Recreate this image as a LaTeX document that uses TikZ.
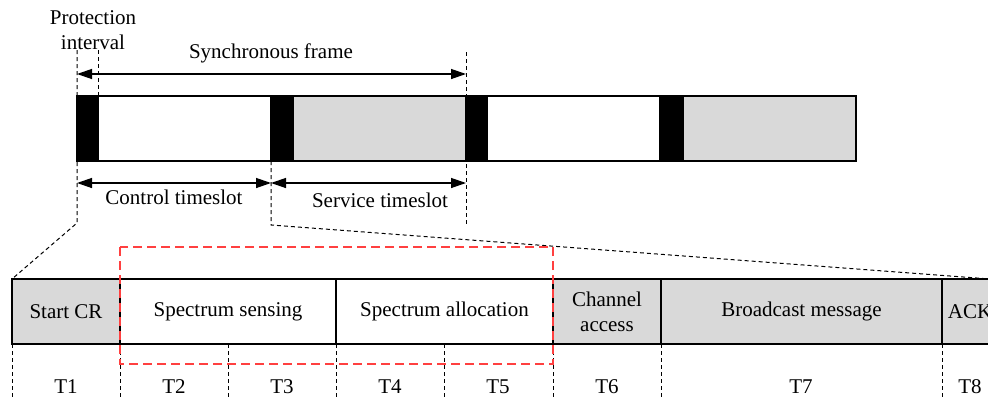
\documentclass[tikz,border=0pt]{standalone}
\usepackage{fontspec}
\setmainfont{Liberation Serif}
\usetikzlibrary{arrows.meta}
\definecolor{slotgray}{HTML}{D9D9D9}
\definecolor{zonered}{HTML}{FF4040}
\tikzset{
  txt/.style={font=\fontsize{21}{25}\selectfont, inner sep=0pt, align=center},
  slot/.style={draw=black, line width=1.1pt, minimum height=65pt, inner sep=0pt, outer sep=0pt, anchor=north west},
  guard/.style={slot, fill=black},
  cell/.style={slot, txt},
  guide/.style={line width=1pt, dash pattern=on 4pt off 3pt},
  dim/.style={line width=1.3pt, {Triangle[length=15pt,width=10pt]}-{Triangle[length=15pt,width=10pt]}},
  zone/.style={draw=zonered, line width=1.2pt, dash pattern=on 9pt off 5pt}
}
\begin{document}
\begin{tikzpicture}[x=1pt, y=-1pt]
\clip (0,0) rectangle (988,399);

% guide coordinates of the frame
\coordinate (pL)    at (77,50);
\coordinate (pR)    at (98,50);
\coordinate (pRb)   at (98,96);
\coordinate (fR)    at (466,52);
\coordinate (kneeA) at (77,223);
\coordinate (kneeB) at (271,225);
\coordinate (kneeC) at (466,225);
\coordinate (topB)  at (271,161);
\coordinate (zoomL) at (12,279);
\coordinate (zoomR) at (990,279);

% dashed guides (behind the frame)
\draw[guide] (pL) -- (kneeA) -- (zoomL);
\draw[guide] (pR) -- (pRb);
\draw[guide] (topB) -- (kneeB) -- (zoomR);
\draw[guide] (fR) -- (kneeC);

% frame bar: guard intervals and timeslots
\node[guard, minimum width=21pt]                 (g1) at (77,96)  {};
\node[slot,  minimum width=173pt]                (c1) at (98,96)  {};
\node[guard, minimum width=22pt]                 (g2) at (271,96) {};
\node[slot,  fill=slotgray, minimum width=173pt] (s1) at (293,96) {};
\node[guard, minimum width=21pt]                 (g3) at (466,96) {};
\node[slot,  minimum width=173pt]                (c2) at (487,96) {};
\node[guard, minimum width=23pt]                 (g4) at (660,96) {};
\node[slot,  fill=slotgray, minimum width=173pt] (s2) at (683,96) {};

% labels of the frame
\node[txt] (prot) at (93,30) {Protection\\interval};
\node[txt] (sync) at (271,53) {Synchronous frame};
\node[txt] (ctrl) at (174,197) {Control timeslot};
\node[txt] (serv) at (380,200) {Service timeslot};

% dimension arrows
\coordinate (sfL) at (77,74);
\coordinate (sfR) at (466,74);
\coordinate (ctL) at (77,183);
\coordinate (ctR) at (271,183);
\coordinate (stR) at (466,183);
\draw[dim] (sfL) -- (sfR);
\draw[dim] (ctL) -- (ctR);
\draw[dim] (ctR) -- (stR);

% expanded control timeslot
\node[cell, fill=slotgray, minimum width=108pt] (startcr) at (12,279)  {Start CR};
\node[cell, minimum width=216pt]                (sense)   at (120,279) {Spectrum sensing};
\node[cell, minimum width=217pt]                (alloc)   at (336,279) {Spectrum allocation};
\node[cell, fill=slotgray, minimum width=108pt] (chan)    at (553,279) {Channel\\access};
\node[cell, fill=slotgray, minimum width=281pt] (bcast)   at (661,279) {Broadcast message};
\node[cell, fill=slotgray, minimum width=56pt]  (ack)     at (942,279) {ACK};

% time marks below the cells
\foreach \x in {12,120,228,336,444,553,661,942}
  \draw[guide] (\x,344) -- (\x,399);

\node[txt] (t1) at (66,387)  {T1};
\node[txt] (t2) at (174,387) {T2};
\node[txt] (t3) at (282,387) {T3};
\node[txt] (t4) at (390,387) {T4};
\node[txt] (t5) at (498,387) {T5};
\node[txt] (t6) at (607,387) {T6};
\node[txt] (t7) at (801,387) {T7};
\node[txt] (t8) at (970,387) {T8};

% highlighted sensing and allocation phase
\draw[zone] (120,247) rectangle (553,364);
\end{tikzpicture}
\end{document}
